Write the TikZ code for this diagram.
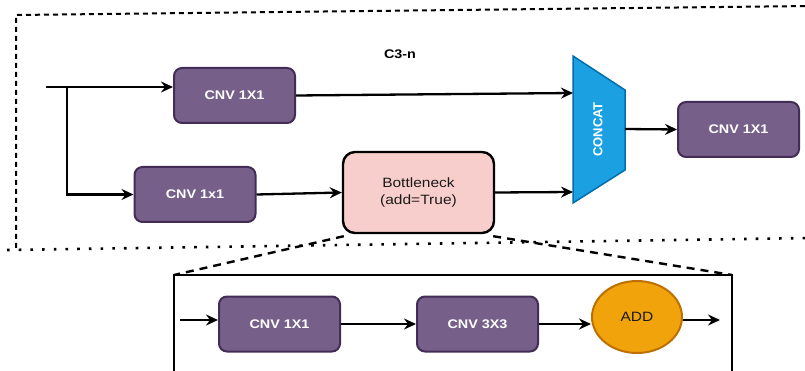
\documentclass[tikz,border=0pt]{standalone}
\usepackage{fontspec}
\setmainfont[FakeStretch=1.15]{Liberation Sans}
\newfontfamily\catfont{Liberation Sans}
\usetikzlibrary{arrows.meta,shapes.geometric}

\definecolor{cnvfill}{HTML}{76608A}
\definecolor{cnvline}{HTML}{432D57}
\definecolor{bnfill}{HTML}{F8CECC}
\definecolor{catfill}{HTML}{1BA1E2}
\definecolor{catline}{HTML}{006EAF}
\definecolor{addfill}{HTML}{F0A30A}
\definecolor{addline}{HTML}{BD7000}
\definecolor{ink}{HTML}{1A1A1A}

\begin{document}
\begin{tikzpicture}[x=1pt,y=-1pt,
  cnv/.style={draw=cnvline, fill=cnvfill, line width=2pt, rounded corners=8pt,
    minimum width=121pt, minimum height=55pt, inner sep=0pt, text=white,
    font=\fontsize{12.5}{14}\selectfont\bfseries},
  bneck/.style={draw=black, fill=bnfill, line width=2.4pt, rounded corners=12pt,
    minimum width=151pt, minimum height=81pt, inner sep=0pt, text=ink, align=center,
    font=\fontsize{13.5}{17}\selectfont},
  addnode/.style={ellipse, draw=addline, fill=addfill, line width=2pt,
    minimum width=90pt, minimum height=72pt, inner sep=0pt, text=ink,
    font=\fontsize{13.5}{15}\selectfont},
  flow/.style={line width=2.3pt, -{Stealth[length=12pt,width=11pt,inset=4pt]}},
  wire/.style={line width=2.3pt},
  framedash/.style={line width=2pt, dash pattern=on 5pt off 4pt},
  framedot/.style={line width=2.6pt, dash pattern=on 2.6pt off 9.1pt},
  zoomdash/.style={line width=2.4pt, dash pattern=on 8pt off 6pt},
]
\useasboundingbox (0,0) rectangle (805,371);
\clip (0,0) rectangle (805,371);
\fill[white] (0,0) rectangle (805,371);

% C3 module frame
\draw[framedash] (16,248) -- (16,15) -- (810,6);
\draw[framedot] (7,250) -- (810,238);
\node[font=\fontsize{12.5}{14}\selectfont\bfseries] (title) at (400,54) {C3-n};

% input split
\coordinate (in) at (46,87);
\coordinate (split) at (67,87);

\node[cnv] (c1) at (234.5,95.5) {CNV 1X1};
\node[cnv] (c2) at (195,194.5) {CNV 1x1};
\node[bneck] (bn) at (418.5,192.5) {Bottleneck\\(add=True)};
\node[cnv] (c3) at (738.5,129.5) {CNV 1X1};

% concat trapezoid
\draw[draw=catline, fill=catfill, line width=1.5pt]
  (573,56) -- (625,90) -- (625,170) -- (573,203) -- cycle;
\node[rotate=90, text=white, font=\catfont\fontsize{13}{15}\selectfont\bfseries]
  (cat) at (598,129.5) {CONCAT};
\coordinate (ct1) at (573,93);
\coordinate (ct2) at (573,192);
\coordinate (ct3) at (625,129);

\draw[wire] (in) -- (split);
\draw[flow] (split) -- (split -| c1.west);
\draw[flow] (split) |- (c2.west);
\draw[flow] (c1.east) -- (ct1);
\draw[flow] (c2.east) -- (bn.west);
\draw[flow] (bn.east) -- (ct2);
\draw[flow] (ct3) -- (c3.west);

% bottleneck detail
\coordinate (detl) at (174,275);
\coordinate (detr) at (732,275);
\draw[line width=2.5pt] (174,380) -- (detl) -- (detr) -- (732,380);
\draw[zoomdash] ([xshift=2pt,yshift=-2pt]bn.south west) -- (detl);
\draw[zoomdash] ([xshift=-2pt,yshift=-2pt]bn.south east) -- (detr);

\node[cnv] (d1) at (279.5,324) {CNV 1X1};
\node[cnv] (d2) at (477.5,324) {CNV 3X3};
\node[addnode] (add) at (637,317) {ADD};
\coordinate (din) at (180,320);
\coordinate (dout) at (720,320);

\draw[flow] (din) -- (din -| d1.west);
\draw[flow] (d1.east) -- (d2.west);
\draw[flow] (d2.east) -- (d2.east -| add.west);
\draw[flow] (dout -| add.east) -- (dout);
\end{tikzpicture}
\end{document}
